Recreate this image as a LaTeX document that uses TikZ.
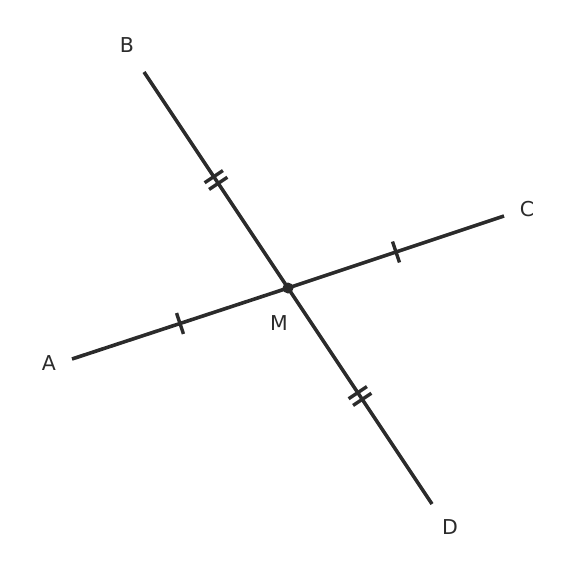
\documentclass[tikz,border=0pt]{standalone}
\usepackage{fontspec}
\setmainfont{DejaVu Sans}
\usetikzlibrary{calc}
\definecolor{ink}{HTML}{2B2B2B}

\begin{document}
\begin{tikzpicture}[x=1pt,y=-1pt,
        seg/.style={draw=ink,line width=3.6pt},
        tick/.style={draw=ink,line width=3.4pt},
        lbl/.style={text=ink,font=\fontsize{20.5}{24}\selectfont}]
        \useasboundingbox (0,0) rectangle (575,576);

        \coordinate (M) at (288,288);
        \coordinate (A) at (72,359);
        \coordinate (C) at (504,216);
        \coordinate (B) at (144,72);
        \coordinate (D) at (432,504);

        \node[lbl] (lA) at (49,363) {A};
        \node[lbl] (lB) at (127,45) {B};
        \node[lbl] (lC) at (527,209) {C};
        \node[lbl] (lD) at (450,527) {D};
        \node[lbl] (lM) at (279,323) {M};

        \path[seg]
            (A) -- (M) -- (C)
            (B) -- (M) -- (D)
        ;
        \fill[ink] (M) circle (5.5);

        % single ticks
        \foreach \p/\q in {A/M, M/C}
            \draw[tick] ($(\p)!0.5!(\q)!11pt!90:(\q)$) -- ($(\p)!0.5!(\q)!11pt!-90:(\q)$);

        % double ticks
        \foreach \p/\q in {B/M, M/D} {
            \foreach \s in {-4,4} {
                \coordinate (t) at ($(\p)!0.5!(\q)!\s pt!(\q)$);
                \draw[tick] ($(t)!11pt!90:(\q)$) -- ($(t)!11pt!-90:(\q)$);
            }
        }
    \end{tikzpicture}
\end{document}
